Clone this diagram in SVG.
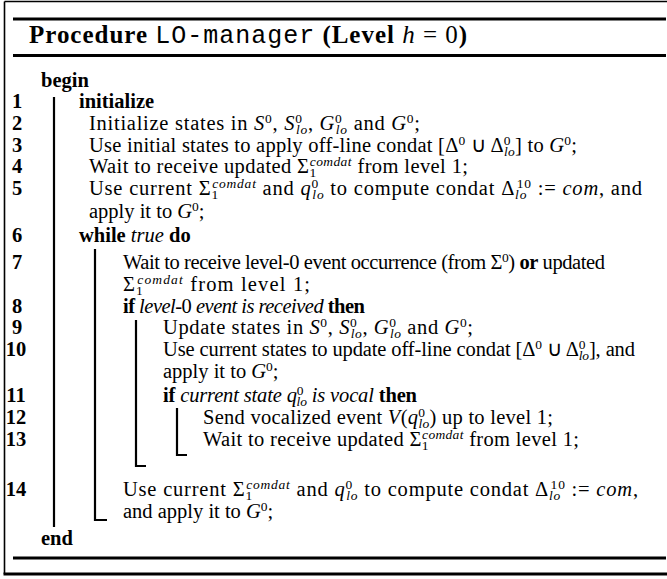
<svg xmlns="http://www.w3.org/2000/svg" width="667" height="579" viewBox="0 0 667 579">
<style>
text{font-family:"Liberation Serif","Times New Roman",serif;font-size:20.5px;fill:#000}
.b{font-weight:bold}
.i{font-style:italic}
.m{font-family:"Liberation Mono","Courier New",monospace;font-weight:normal}
.s{font-size:13.5px}
.n{font-weight:bold;text-anchor:middle}
.t{font-size:25px}
.bar{stroke:#000;stroke-width:2.2;fill:none}
.rule{stroke:#000;stroke-width:3;fill:none}
</style>
<rect width="667" height="579" fill="#fff"/>
<g id="frame">
<path d="M4.5 1.5 H667 M4.5 1.5 V574" stroke="#000" stroke-width="1.6" fill="none"/>
<path class="rule" d="M13 19 H666 M13 55.5 H666 M13 558 H666"/>
<path d="M3.5 574 H667" stroke="#000" stroke-width="3"/>
</g>
<g id="title">
<text class="t" x="29" y="43" textLength="438" lengthAdjust="spacing"><tspan class="b">Procedure</tspan> <tspan class="m">LO-manager</tspan> <tspan class="b">(Level</tspan> <tspan class="i">h</tspan> = 0<tspan class="b">)</tspan></text>
</g>
<g id="connectors">
<path class="bar" d="M54 97 V527"/>
<path class="bar" d="M95 249 V520 H107"/>
<path class="bar" d="M136 320 V466 H146"/>
<path class="bar" d="M177 408 V455 H187"/>
</g>
<g id="numbers">
<text class="n" x="17" y="108">1</text>
<text class="n" x="17" y="130">2</text>
<text class="n" x="17" y="152">3</text>
<text class="n" x="17" y="173">4</text>
<text class="n" x="17" y="195">5</text>
<text class="n" x="17" y="242">6</text>
<text class="n" x="17" y="269">7</text>
<text class="n" x="17" y="313">8</text>
<text class="n" x="17" y="334">9</text>
<text class="n" x="16" y="356">10</text>
<text class="n" x="16" y="402">11</text>
<text class="n" x="16" y="424">12</text>
<text class="n" x="16" y="446">13</text>
<text class="n" x="16" y="496">14</text>
</g>
<g id="lines">
<text class="b" x="41" y="87">begin</text>
<text class="b" x="79" y="108">initialize</text>
<text x="89" y="130" textLength="331" lengthAdjust="spacing">Initialize states in <tspan class="i">S</tspan><tspan class="s" dy="-7.5">0</tspan><tspan dy="7.5">, </tspan><tspan class="i">S</tspan><tspan class="s" dy="-7.5">0</tspan><tspan class="s i" dx="-6.75" dy="11.5">lo</tspan><tspan dy="-4">, </tspan><tspan class="i">G</tspan><tspan class="s" dy="-7.5">0</tspan><tspan class="s i" dx="-6.75" dy="11.5">lo</tspan><tspan dy="-4"> and </tspan><tspan class="i">G</tspan><tspan class="s" dy="-7.5">0</tspan><tspan dy="7.5">;</tspan></text>
<text x="89" y="152" textLength="488" lengthAdjust="spacing">Use initial states to apply off-line condat [Δ<tspan class="s" dy="-7.5">0</tspan><tspan dy="7.5"> ∪ Δ</tspan><tspan class="s" dy="-7.5">0</tspan><tspan class="s i" dx="-6.75" dy="11.5">lo</tspan><tspan dy="-4">] to </tspan><tspan class="i">G</tspan><tspan class="s" dy="-7.5">0</tspan><tspan dy="7.5">;</tspan></text>
<text x="89" y="173" textLength="379" lengthAdjust="spacing">Wait to receive updated Σ<tspan class="s" dy="4">1</tspan><tspan class="s i" dx="-6.75" dy="-11.5">comdat</tspan><tspan dy="7.5"> from level 1;</tspan></text>
<text x="89" y="195" textLength="553" lengthAdjust="spacing">Use current Σ<tspan class="s" dy="4">1</tspan><tspan class="s i" dx="-6.75" dy="-11.5">comdat</tspan><tspan dy="7.5"> and </tspan><tspan class="i">q</tspan><tspan class="s" dy="-7.5">0</tspan><tspan class="s i" dx="-6.75" dy="11.5">lo</tspan><tspan dy="-4"> to compute condat Δ</tspan><tspan class="s i" dy="4">lo</tspan><tspan class="s" dx="-10.5" dy="-11.5">10</tspan><tspan dy="7.5"> := </tspan><tspan class="i">com</tspan>, and</text>
<text x="89" y="218">apply it to <tspan class="i">G</tspan><tspan class="s" dy="-7.5">0</tspan><tspan dy="7.5">;</tspan></text>
<text x="79" y="242"><tspan class="b">while</tspan> <tspan class="i">true</tspan> <tspan class="b">do</tspan></text>
<text x="123" y="269" textLength="482" lengthAdjust="spacing">Wait to receive level-0 event occurrence (from Σ<tspan class="s" dy="-7.5">0</tspan><tspan dy="7.5">) </tspan><tspan class="b">or</tspan> updated</text>
<text x="123" y="291" textLength="187" lengthAdjust="spacing">Σ<tspan class="s" dy="4">1</tspan><tspan class="s i" dx="-6.75" dy="-11.5">comdat</tspan><tspan dy="7.5"> from level 1;</tspan></text>
<text x="123" y="313" textLength="242" lengthAdjust="spacing"><tspan class="b">if</tspan> <tspan class="i">level</tspan>-0 <tspan class="i">event is received</tspan> <tspan class="b">then</tspan></text>
<text x="163" y="334" textLength="310" lengthAdjust="spacing">Update states in <tspan class="i">S</tspan><tspan class="s" dy="-7.5">0</tspan><tspan dy="7.5">, </tspan><tspan class="i">S</tspan><tspan class="s" dy="-7.5">0</tspan><tspan class="s i" dx="-6.75" dy="11.5">lo</tspan><tspan dy="-4">, </tspan><tspan class="i">G</tspan><tspan class="s" dy="-7.5">0</tspan><tspan class="s i" dx="-6.75" dy="11.5">lo</tspan><tspan dy="-4"> and </tspan><tspan class="i">G</tspan><tspan class="s" dy="-7.5">0</tspan><tspan dy="7.5">;</tspan></text>
<text x="163" y="356" textLength="472" lengthAdjust="spacing">Use current states to update off-line condat [Δ<tspan class="s" dy="-7.5">0</tspan><tspan dy="7.5"> ∪ Δ</tspan><tspan class="s" dy="-7.5">0</tspan><tspan class="s i" dx="-6.75" dy="11.5">lo</tspan><tspan dy="-4">], and</tspan></text>
<text x="163" y="378">apply it to <tspan class="i">G</tspan><tspan class="s" dy="-7.5">0</tspan><tspan dy="7.5">;</tspan></text>
<text x="163" y="402" textLength="254" lengthAdjust="spacing"><tspan class="b">if</tspan> <tspan class="i">current state q</tspan><tspan class="s" dy="-7.5">0</tspan><tspan class="s i" dx="-6.75" dy="11.5">lo</tspan><tspan class="i" dy="-4"> is vocal</tspan> <tspan class="b">then</tspan></text>
<text x="203" y="424" textLength="350" lengthAdjust="spacing">Send vocalized event <tspan class="i">V</tspan>(<tspan class="i">q</tspan><tspan class="s" dy="-7.5">0</tspan><tspan class="s i" dx="-6.75" dy="11.5">lo</tspan><tspan dy="-4">) up to level 1;</tspan></text>
<text x="203" y="446" textLength="376" lengthAdjust="spacing">Wait to receive updated Σ<tspan class="s" dy="4">1</tspan><tspan class="s i" dx="-6.75" dy="-11.5">comdat</tspan><tspan dy="7.5"> from level 1;</tspan></text>
<text x="123" y="496" textLength="515" lengthAdjust="spacing">Use current Σ<tspan class="s" dy="4">1</tspan><tspan class="s i" dx="-6.75" dy="-11.5">comdat</tspan><tspan dy="7.5"> and </tspan><tspan class="i">q</tspan><tspan class="s" dy="-7.5">0</tspan><tspan class="s i" dx="-6.75" dy="11.5">lo</tspan><tspan dy="-4"> to compute condat Δ</tspan><tspan class="s i" dy="4">lo</tspan><tspan class="s" dx="-10.5" dy="-11.5">10</tspan><tspan dy="7.5"> := </tspan><tspan class="i">com</tspan>,</text>
<text x="123" y="518">and apply it to <tspan class="i">G</tspan><tspan class="s" dy="-7.5">0</tspan><tspan dy="7.5">;</tspan></text>
<text class="b" x="41" y="545">end</text>
</g>
</svg>
